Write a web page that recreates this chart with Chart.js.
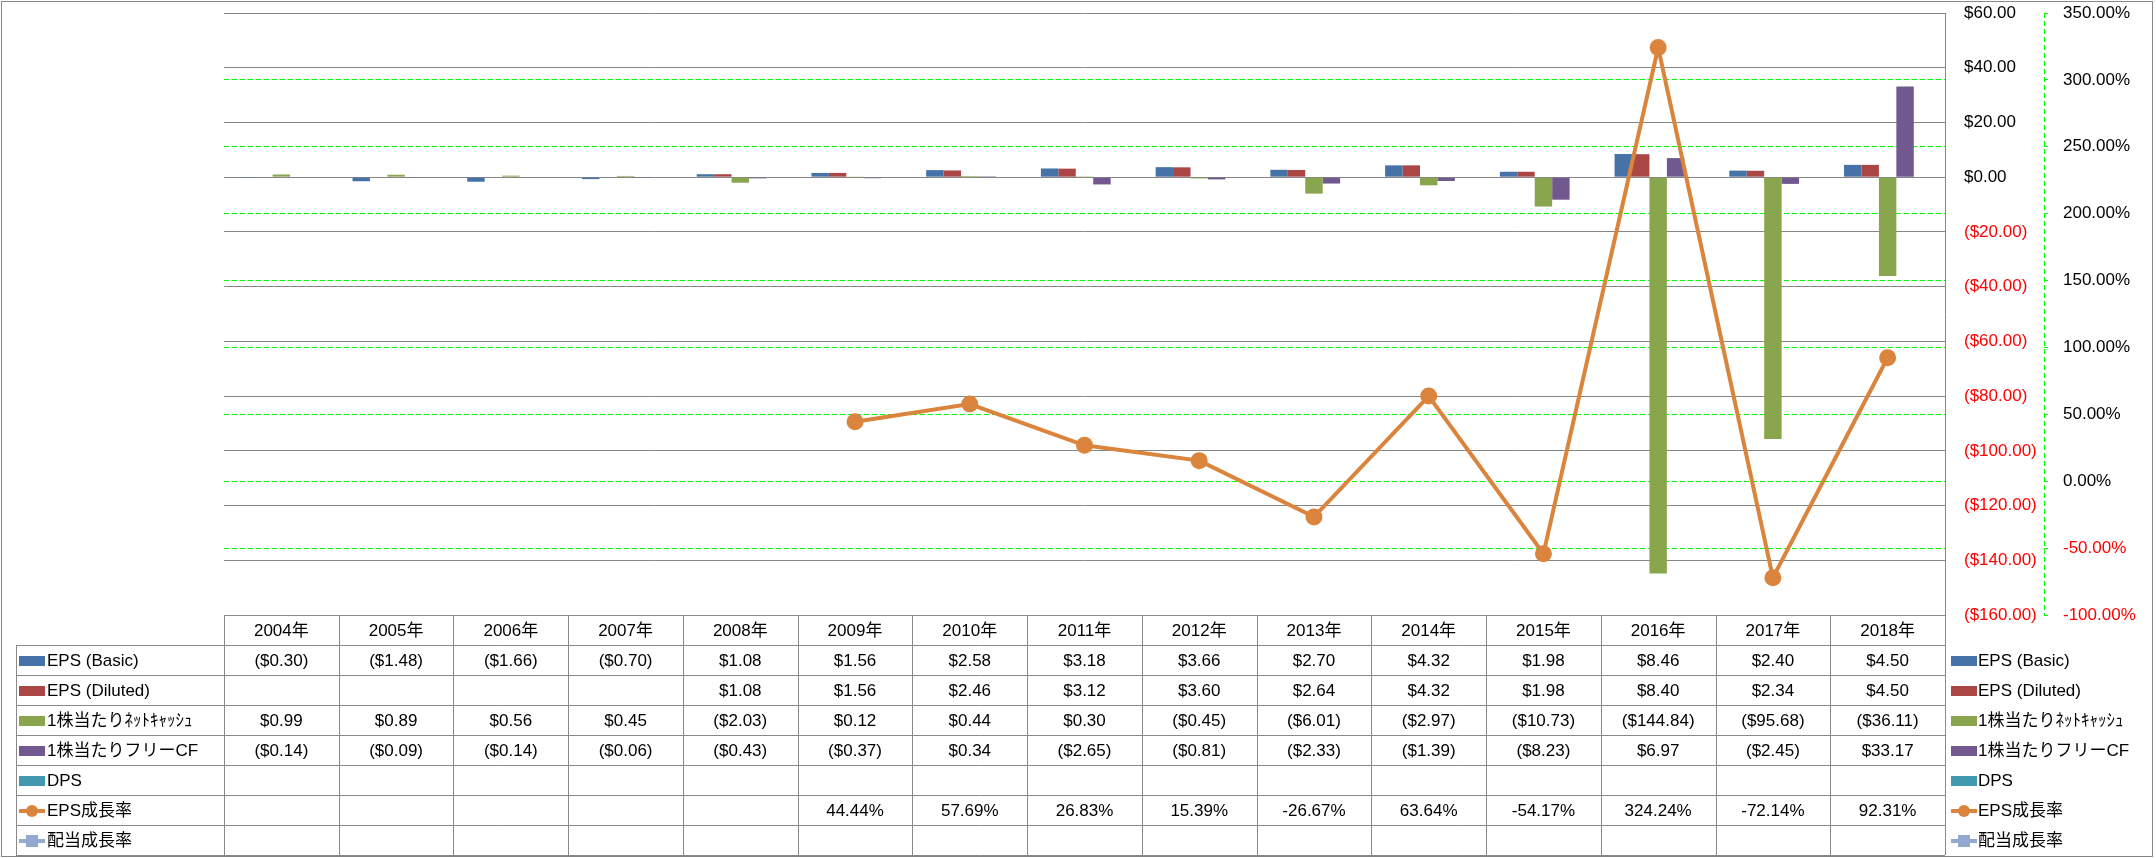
<!DOCTYPE html>
<html>
<head>
<meta charset="utf-8">
<script src="https://cdn.jsdelivr.net/npm/chart.js@4.4.1/dist/chart.umd.min.js"></script>
<style>
  html, body { margin: 0; padding: 0; background: #fff; }
  canvas { display: block; }
</style>
</head>
<body>
<canvas id="myChart" width="2156" height="858"></canvas>
<script>
// categories
const years = ["2004年", "2005年", "2006年", "2007年", "2008年", "2009年", "2010年", "2011年",
  "2012年", "2013年", "2014年", "2015年", "2016年", "2017年", "2018年"];

// series values
const epsBasic = [-0.30, -1.48, -1.66, -0.70, 1.08, 1.56, 2.58, 3.18, 3.66, 2.70, 4.32, 1.98, 8.46, 2.40, 4.50];
const epsDiluted = [null, null, null, null, 1.08, 1.56, 2.46, 3.12, 3.60, 2.64, 4.32, 1.98, 8.40, 2.34, 4.50];
const netCashPerShare = [0.99, 0.89, 0.56, 0.45, -2.03, 0.12, 0.44, 0.30, -0.45, -6.01, -2.97, -10.73, -144.84, -95.68, -36.11];
const fcfPerShare = [-0.14, -0.09, -0.14, -0.06, -0.43, -0.37, 0.34, -2.65, -0.81, -2.33, -1.39, -8.23, 6.97, -2.45, 33.17];
const dps = [null, null, null, null, null, null, null, null, null, null, null, null, null, null, null];
const epsGrowth = [null, null, null, null, null, 44.44, 57.69, 26.83, 15.39, -26.67, 63.64, -54.17, 324.24, -72.14, 92.31];
const dividendGrowth = [null, null, null, null, null, null, null, null, null, null, null, null, null, null, null];

// series names
const seriesNames = ["EPS (Basic)", "EPS (Diluted)", "1株当たりﾈｯﾄｷｬｯｼｭ", "1株当たりフリーCF", "DPS", "EPS成長率", "配当成長率"];

// axis ranges (tick labels come from these)
const moneyMin = -160, moneyMax = 60, moneyStep = 20;
const pctMin = -100, pctMax = 350, pctStep = 50;

const FONT = '"Liberation Sans", Arial, "Noto Sans CJK JP", sans-serif';
Chart.defaults.font.family = FONT;
Chart.defaults.font.size = 17;
Chart.defaults.color = "#000";

function money(v) {
  if (v === null || v === undefined) return "";
  return v < 0 ? "($" + Math.abs(v).toFixed(2) + ")" : "$" + v.toFixed(2);
}
function pct(v) {
  if (v === null || v === undefined) return "";
  return v.toFixed(2) + "%";
}

const rows = [
  { label: seriesNames[0], color: "#4572A7", data: epsBasic, kind: "bar", fmt: money },
  { label: seriesNames[1], color: "#AA4643", data: epsDiluted, kind: "bar", fmt: money },
  { label: seriesNames[2], color: "#89A54E", data: netCashPerShare, kind: "bar", fmt: money },
  { label: seriesNames[3], color: "#71588F", data: fcfPerShare, kind: "bar", fmt: money },
  { label: seriesNames[4], color: "#4198AF", data: dps, kind: "bar", fmt: money },
  { label: seriesNames[5], color: "#DB843D", data: epsGrowth, kind: "line", marker: "circle", fmt: pct },
  { label: seriesNames[6], color: "#93A9CF", data: dividendGrowth, kind: "line", marker: "square", fmt: pct },
];

const datasets = rows.map(function (r) {
  if (r.kind === "bar") {
    return {
      type: "bar",
      label: r.label,
      data: r.data,
      backgroundColor: r.color,
      borderWidth: 0,
      yAxisID: "y",
      order: 1,
      barPercentage: 1,
      categoryPercentage: 0.76,
    };
  }
  return {
    type: "line",
    label: r.label,
    data: r.data,
    borderColor: r.color,
    backgroundColor: r.color,
    borderWidth: 4,
    pointRadius: 8.5,
    pointStyle: r.marker === "square" ? "rect" : "circle",
    pointBorderWidth: 0,
    pointBackgroundColor: r.color,
    tension: 0,
    yAxisID: "y1",
    order: 0,
  };
});

// white background, outer border, dashed % axis line, data table and right legend
const dataTable = {
  id: "dataTable",
  beforeDraw(chart) {
    const ctx = chart.ctx;
    ctx.save();
    ctx.fillStyle = "#fff";
    ctx.fillRect(0, 0, chart.width, chart.height);
    ctx.restore();
  },
  afterDraw(chart) {
    const ctx = chart.ctx;
    const area = chart.chartArea;
    const n = years.length;
    const colW = (area.right - area.left) / n;
    const rowH = 30;
    const top = Math.round(area.bottom);
    const tableLeft = 16;
    const bottom = top + rowH * (rows.length + 1);
    const px = (v) => Math.round(v) + 0.5;

    ctx.save();

    // outer chart border
    ctx.strokeStyle = "#888";
    ctx.lineWidth = 1;
    ctx.strokeRect(1.5, 1.5, chart.width - 5, chart.height - 3);

    // dashed % axis line
    const y1 = chart.scales.y1;
    ctx.strokeStyle = "#00FF00";
    ctx.setLineDash([5, 3]);
    ctx.beginPath();
    ctx.moveTo(px(y1.left), area.top);
    ctx.lineTo(px(y1.left), area.bottom);
    ctx.stroke();
    ctx.setLineDash([]);

    // table grid
    ctx.strokeStyle = "#898989";
    ctx.beginPath();
    ctx.moveTo(area.left, px(top));
    ctx.lineTo(area.right, px(top));
    for (let r = 1; r <= rows.length + 1; r++) {
      ctx.moveTo(tableLeft, px(top + r * rowH));
      ctx.lineTo(area.right, px(top + r * rowH));
    }
    ctx.moveTo(px(tableLeft), top + rowH);
    ctx.lineTo(px(tableLeft), bottom);
    for (let c = 0; c <= n; c++) {
      const x = px(area.left + c * colW);
      ctx.moveTo(x, top);
      ctx.lineTo(x, bottom);
    }
    ctx.stroke();

    ctx.font = "17px " + FONT;
    ctx.textBaseline = "middle";
    ctx.fillStyle = "#000";
    ctx.textAlign = "center";
    const xs = chart.scales.x;
    years.forEach(function (y, i) {
      ctx.fillText(y, xs.getPixelForValue(i), top + rowH / 2 + 1);
    });

    function swatch(r, x, yc) {
      if (r.kind === "bar") {
        ctx.fillStyle = r.color;
        ctx.fillRect(x, yc - 5, 26, 10);
        return;
      }
      ctx.strokeStyle = r.color;
      ctx.fillStyle = r.color;
      ctx.lineWidth = 4;
      ctx.beginPath();
      ctx.moveTo(x, yc);
      ctx.lineTo(x + 26, yc);
      ctx.stroke();
      if (r.marker === "circle") {
        ctx.beginPath();
        ctx.arc(x + 13, yc, 6, 0, Math.PI * 2);
        ctx.fill();
      } else {
        ctx.fillRect(x + 7, yc - 6, 12, 12);
      }
    }

    rows.forEach(function (r, ri) {
      const yc = top + rowH * (ri + 1) + rowH / 2 + 1;

      // left legend cell
      ctx.save();
      ctx.beginPath();
      ctx.rect(tableLeft + 1, yc - rowH / 2, area.left - tableLeft - 2, rowH);
      ctx.clip();
      swatch(r, 19, yc);
      ctx.fillStyle = "#000";
      ctx.textAlign = "left";
      ctx.fillText(r.label, 47, yc);
      ctx.restore();

      // values
      ctx.fillStyle = "#000";
      ctx.textAlign = "center";
      r.data.forEach(function (v, i) {
        const t = r.fmt(v);
        if (t) ctx.fillText(t, xs.getPixelForValue(i), yc);
      });

      // right legend
      ctx.save();
      ctx.beginPath();
      ctx.rect(area.right + 2, yc - rowH / 2, chart.width - area.right - 8, rowH);
      ctx.clip();
      swatch(r, area.right + 6, yc);
      ctx.fillStyle = "#000";
      ctx.textAlign = "left";
      ctx.fillText(r.label, area.right + 33, yc);
      ctx.restore();
    });

    ctx.restore();
  },
};

const redIfNegative = (c) => (c.tick && c.tick.value < 0 ? "#FF0000" : "#000000");

// keep the tick padding from pushing the plot area down
function fixWidth(w) {
  return function (s) {
    s.width = w;
    s.paddingTop = 0;
    s.paddingBottom = 0;
  };
}

// the % grid is hidden where it sits on the top/bottom gray lines
const pctGridColor = (c) =>
  c.tick && (c.tick.value === pctMax || c.tick.value === pctMin) ? "rgba(0,0,0,0)" : "#00FF00";

new Chart(document.getElementById("myChart").getContext("2d"), {
  type: "bar",
  data: { labels: years, datasets: datasets },
  options: {
    responsive: false,
    animation: false,
    layout: { padding: { top: 13, bottom: 243, left: 224, right: 2 } },
    plugins: {
      legend: { display: false },
      tooltip: { enabled: false },
    },
    scales: {
      x: {
        display: false,
        offset: true,
      },
      y: {
        position: "right",
        min: moneyMin,
        max: moneyMax,
        afterFit: fixWidth(99),
        ticks: {
          stepSize: moneyStep,
          autoSkip: false,
          padding: 19,
          color: redIfNegative,
          font: { size: 17 },
          callback: (v) => money(v),
        },
        grid: { color: "#868686", lineWidth: 1, drawTicks: false },
        border: { display: true, color: "#868686", width: 1 },
      },
      y1: {
        position: "right",
        min: pctMin,
        max: pctMax,
        afterFit: fixWidth(110),
        ticks: {
          stepSize: pctStep,
          autoSkip: false,
          padding: 15,
          color: redIfNegative,
          font: { size: 17 },
          callback: (v) => pct(v),
        },
        grid: {
          color: pctGridColor,
          lineWidth: 1,
          drawOnChartArea: true,
          drawTicks: true,
          tickLength: 4,
          tickColor: "#00FF00",
        },
        border: { display: false, dash: [5, 3] },
      },
    },
  },
  plugins: [dataTable],
});
</script>
</body>
</html>
